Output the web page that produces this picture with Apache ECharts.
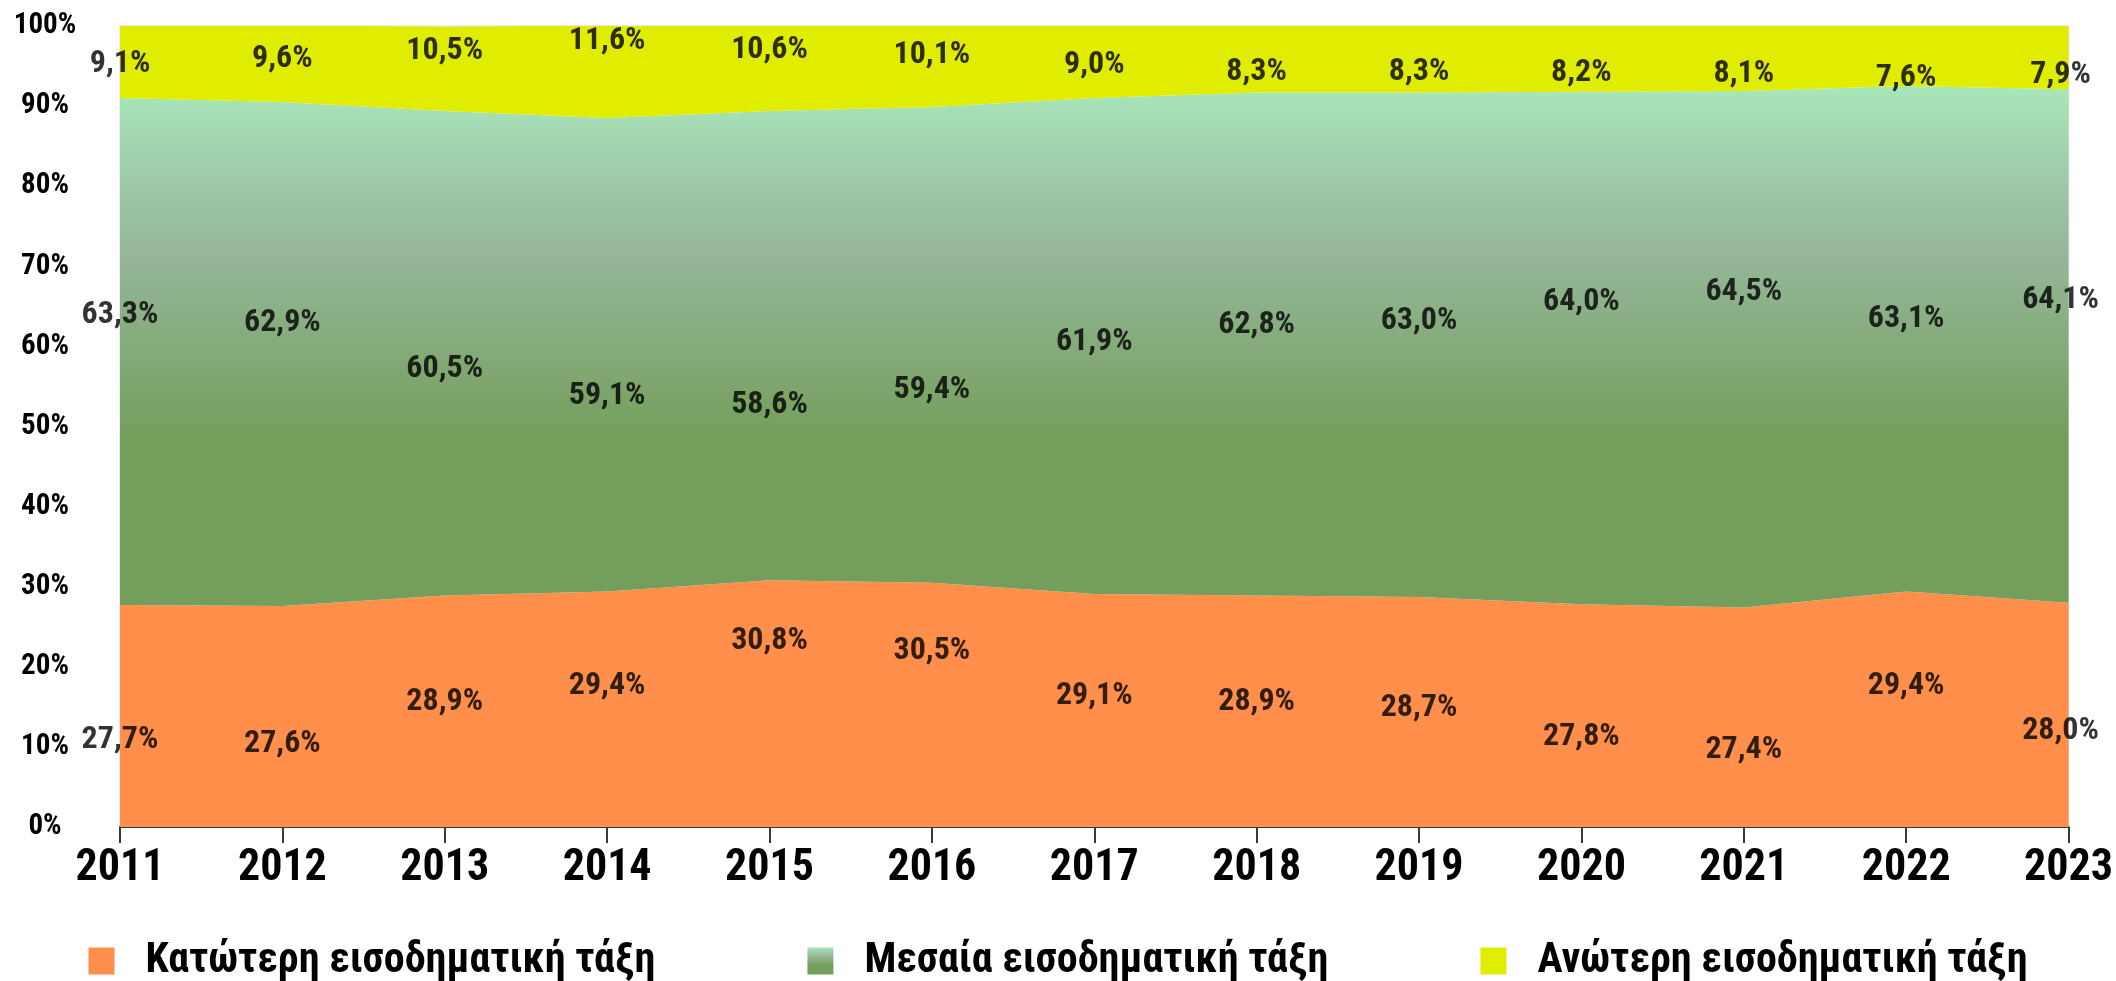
<!DOCTYPE html>
<html>
<head>
<meta charset="utf-8">
<script src="https://cdn.jsdelivr.net/npm/echarts@6/dist/echarts.min.js"></script>
<style>
html,body{margin:0;padding:0;background:#fff;}
#chart{width:2116px;height:981px;}
</style>
</head>
<body>
<div id="chart"></div>
<script>
var years = ['2011','2012','2013','2014','2015','2016','2017','2018','2019','2020','2021','2022','2023'];
var lowerName = 'Κατώτερη εισοδηματική τάξη';
var middleName = 'Μεσαία εισοδηματική τάξη';
var upperName = 'Ανώτερη εισοδηματική τάξη';
var lowerValues = [27.7,27.6,28.9,29.4,30.8,30.5,29.1,28.9,28.7,27.8,27.4,29.4,28.0];
var middleValues = [63.3,62.9,60.5,59.1,58.6,59.4,61.9,62.8,63.0,64.0,64.5,63.1,64.1];
var upperValues = [9.1,9.6,10.5,11.6,10.6,10.1,9.0,8.3,8.3,8.2,8.1,7.6,7.9];
var yTicks = [0,10,20,30,40,50,60,70,80,90,100];

var FONT = "'Roboto Condensed','Liberation Sans Narrow','DejaVu Sans Condensed',Roboto,sans-serif";

function fmt(v){ return v.toFixed(1).replace('.', ',') + '%'; }

// Label anchor heights (Excel-style placement derived from each value)
function labelItems(vals, a, b){
  return vals.map(function(v, i){
    var item = { value: [years[i], a * v + b], raw: v };
    if (i === vals.length - 1) item.label = { offset: [-8, 0] };
    return item;
  });
}

function labelSeries(vals, a, b){
  return {
    type: 'scatter',
    data: labelItems(vals, a, b),
    symbolSize: 1,
    itemStyle: { color: 'rgba(0,0,0,0)' },
    silent: true,
    z: 10,
    label: {
      show: true,
      position: 'inside',
      formatter: function(p){ return fmt(p.data.raw); },
      color: '#000',
      textBorderWidth: 0,
      textBorderColor: 'transparent',
      fontFamily: FONT,
      fontWeight: 'bold',
      fontSize: 32
    }
  };
}

var midGrad = function(){
  return new echarts.graphic.LinearGradient(0, 0, 0, 1, [
    { offset: 0, color: '#a8e6b9' },
    { offset: 0.3, color: '#97b89d' },
    { offset: 0.68, color: '#749e5b' },
    { offset: 1, color: '#749e5b' }
  ]);
};

var chart = echarts.init(document.getElementById('chart'), null, { renderer: 'canvas' });
chart.setOption({
  animation: false,
  backgroundColor: '#fff',
  grid: { left: 120, right: 41, top: 26, bottom: 154, show: true, borderColor: '#d9d9d9', borderWidth: 1, backgroundColor: 'transparent' },
  legend: {
    data: [lowerName, middleName, upperName],
    left: 'center',
    top: 935,
    icon: 'rect',
    itemWidth: 26,
    itemHeight: 27,
    itemGap: 152,
    textStyle: { fontFamily: FONT, fontWeight: 'bold', fontSize: 42, color: '#000', padding: [0, 0, 0, 26] }
  },
  xAxis: {
    type: 'category',
    data: years,
    boundaryGap: false,
    axisLine: { show: true, lineStyle: { color: '#3a3a3a', width: 2 } },
    axisTick: { show: true, alignWithLabel: true, length: 16, lineStyle: { color: '#3a3a3a', width: 2 } },
    axisLabel: { color: '#000', fontFamily: FONT, fontWeight: 'bold', fontSize: 44, margin: 20 },
    splitLine: { show: false }
  },
  yAxis: {
    type: 'value',
    min: 0,
    max: 100,
    interval: 10,
    axisLine: { show: false },
    axisTick: { show: false },
    splitLine: { show: false },
    axisLabel: {
      color: '#000', fontFamily: FONT, fontWeight: 'bold', fontSize: 29,
      align: 'center', margin: 75,
      formatter: function(v){ return yTicks.indexOf(v) >= 0 ? v + '%' : ''; }
    }
  },
  series: [
    {
      name: lowerName, type: 'line', stack: 'total', data: lowerValues,
      symbol: 'none', lineStyle: { width: 0 },
      itemStyle: { color: '#ff8f4a' },
      areaStyle: { color: '#ff8f4a', opacity: 1 }
    },
    {
      name: middleName, type: 'line', stack: 'total', data: middleValues,
      symbol: 'none', lineStyle: { width: 0 },
      itemStyle: { color: midGrad() },
      areaStyle: { opacity: 1, color: midGrad() }
    },
    {
      name: upperName, type: 'line', stack: 'total', data: upperValues,
      symbol: 'none', lineStyle: { width: 0 },
      itemStyle: { color: '#e0ec00' },
      areaStyle: { color: '#e0ec00', opacity: 1 }
    },
    labelSeries(lowerValues, 4.0, -100),
    labelSeries(middleValues, 2.4, -88),
    labelSeries(upperValues, 1.18, 84.5)
  ]
});
</script>
</body>
</html>
